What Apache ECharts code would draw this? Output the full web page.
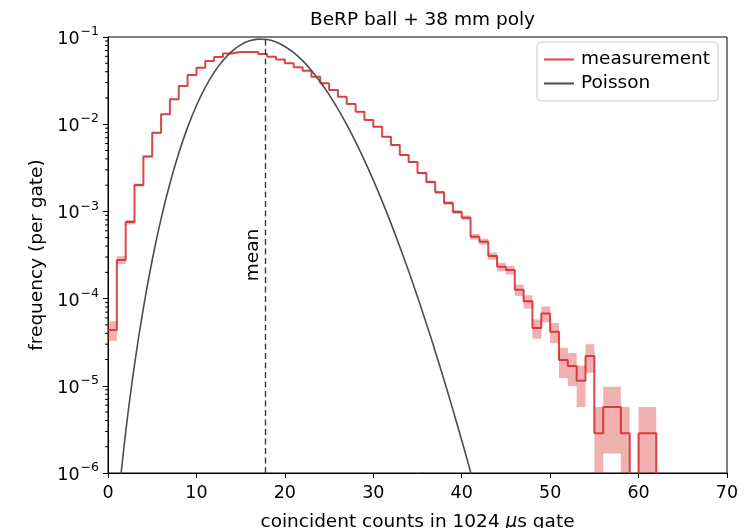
<!DOCTYPE html>
<html><head><meta charset="utf-8">
<script src="https://cdn.jsdelivr.net/npm/echarts@6/dist/echarts.min.js"></script>
<style>html,body{margin:0;padding:0;background:#fff}#c{width:756px;height:528px}</style>
</head><body><div id="c"></div>
<script>
// ---- data ----
const titleText = 'BeRP ball + 38 mm poly';
const binLow = [0,1,2,3,4,5,6,7,8,9,10,11,12,13,14,15,16,17,18,19,20,21,22,23,24,25,26,27,28,29,30,
  31,32,33,34,35,36,37,38,39,40,41,42,43,44,45,46,47,48,49,50,51,52,53,54,55,56,57,58,59,60,61];
const measured = [4.37e-5,2.77e-4,7.55e-4,2.01e-3,4.27e-3,8.0e-3,1.30e-2,1.93e-2,2.74e-2,3.66e-2,
  4.45e-2,5.31e-2,5.90e-2,6.47e-2,6.73e-2,6.73e-2,6.73e-2,6.38e-2,5.94e-2,5.52e-2,
  4.99e-2,4.50e-2,4.11e-2,3.51e-2,2.94e-2,2.47e-2,2.07e-2,1.71e-2,1.39e-2,1.12e-2,
  9.35e-3,7.19e-3,5.77e-3,4.43e-3,3.69e-3,2.75e-3,2.17e-3,1.66e-3,1.25e-3,9.84e-4,
  8.47e-4,5.13e-4,4.49e-4,3.08e-4,2.32e-4,2.13e-4,1.26e-4,9.33e-5,4.60e-5,6.75e-5,
  4.17e-5,1.98e-5,1.69e-5,1.14e-5,2.20e-5,2.85e-6,5.7e-6,5.7e-6,2.85e-6,0,
  2.85e-6,2.85e-6];
const binWidth = 1;
const gates = 351000;          // number of gates (1 count = 1/gates)
const poissonK = [1,2,3,4,5,6,7,8,9,10,11,12,13,14,15,16,17,18,19,20,21,
  22,23,24,25,26,27,28,29,30,31,32,33,34,35,36,37,38,39,40,41,42];
const poissonP = [3.31e-7,2.95e-6,1.75e-5,7.78e-5,2.77e-4,8.22e-4,2.09e-3,4.65e-3,9.20e-3,1.637e-2,
  2.649e-2,3.929e-2,5.38e-2,6.84e-2,8.12e-2,9.03e-2,9.45e-2,9.35e-2,8.76e-2,7.79e-2,
  6.61e-2,5.35e-2,4.14e-2,3.07e-2,2.185e-2,1.496e-2,9.86e-3,6.27e-3,3.85e-3,2.28e-3,
  1.311e-3,7.29e-4,3.93e-4,2.06e-4,1.047e-4,5.18e-5,2.49e-5,1.167e-5,5.33e-6,2.37e-6,
  1.03e-6,4.36e-7];
const meanCounts = 17.8;
const xTicks = [0,10,20,30,40,50,60,70];
const yTicks = [1e-6,1e-5,1e-4,1e-3,1e-2,1e-1];
const seriesNames = ['measurement','Poisson'];
const xLabel = 'coincident counts in 1024 {i|μ}s gate';
const yLabel = 'frequency (per gate)';

// ---- build ----
const FONT = 'DejaVu Sans';
const FLOOR = 1e-12; // zero counts drawn far below the axis (clipped)
const yMin = yTicks[0], yMax = yTicks[yTicks.length-1];
const stepData = binLow.map((x,i)=>[x, measured[i] > 0 ? measured[i] : FLOOR]);
stepData.push([binLow[binLow.length-1] + binWidth, FLOOR]);
const poissonData = poissonK.map((k,i)=>[k, poissonP[i]]);
const minorTicks = [];
for (let d = 0; d < yTicks.length - 1; d++) for (let m = 2; m <= 9; m++) minorTicks.push(yTicks[d]*m);

const chart = echarts.init(document.getElementById('c'));
const RED = 'rgba(214,39,40,0.85)';
const LFS = 18.5, TFS = 17.5;
chart.setOption({
  animation: false,
  textStyle: {fontFamily: FONT},
  title: {text: titleText, left: 417.5, textAlign: 'center', top: 6,
    textStyle: {fontFamily: FONT, fontSize: LFS, fontWeight: 'normal', color: '#000'}},
  legend: {
    data: seriesNames.map(n=>({name:n, icon:'rect'})),
    orient: 'vertical', left: 537, top: 42, itemWidth: 30, itemHeight: 2, itemGap: 5,
    padding: [8, 8, 8, 7], borderColor: '#cccccc', borderWidth: 1, borderRadius: 4,
    backgroundColor: 'rgba(255,255,255,0.8)',
    textStyle: {fontFamily: FONT, fontSize: LFS, color: '#000', padding: [0,0,0,2]}
  },
  grid: {left: 108, right: 29, top: 37, bottom: 55, show: true, borderColor: '#000', borderWidth: 1,
    containLabel: false, outerBoundsMode: 'none'},
  xAxis: {
    type: 'value', min: xTicks[0], max: xTicks[xTicks.length-1], interval: 10,
    name: xLabel, nameLocation: 'middle', nameGap: 40,
    nameTextStyle: {fontFamily: FONT, fontSize: LFS, color: '#000',
      rich: {i: {fontFamily: FONT, fontStyle: 'italic', fontSize: LFS, color: '#000'}}},
    axisLine: {show: true, lineStyle: {color: '#000', width: 1}},
    axisTick: {show: true, length: 5, lineStyle: {color: '#000'}},
    axisLabel: {fontFamily: FONT, fontSize: TFS, color: '#000', margin: 11},
    splitLine: {show: false}
  },
  yAxis: {
    type: 'log', logBase: 10, min: yMin, max: yMax,
    name: yLabel, nameLocation: 'middle', nameGap: 60, nameRotate: 90,
    nameTextStyle: {fontFamily: FONT, fontSize: LFS, color: '#000'},
    axisLine: {show: true, lineStyle: {color: '#000', width: 1}},
    axisTick: {show: true, length: 5, lineStyle: {color: '#000'}},
    axisLabel: {
      margin: 9, color: '#000',
      formatter: v => {
        const e = Math.round(Math.log10(v));
        return '{b|10}{s|' + (e < 0 ? '\u2212' : '') + Math.abs(e) + '}';
      },
      rich: {
        b: {fontFamily: FONT, fontSize: TFS, color: '#000', lineHeight: 23, verticalAlign: 'bottom'},
        s: {fontFamily: FONT, fontSize: 12.5, color: '#000', lineHeight: 23, verticalAlign: 'top', padding: [0,0,0,1]}
      }
    },
    splitLine: {show: false}
  },
  series: [
    {
      name: 'band', type: 'custom', silent: true, z: 1, clip: true,
      data: [0],
      renderItem: (params, api) => {
        const cs = params.coordSys;
        const clampY = y => Math.max(cs.y, Math.min(cs.y + cs.height, y));
        const safe = v => v > 0 ? v : FLOOR;
        const up = [], lo = [];
        measured.forEach((v, i) => {
          const err = Math.sqrt(v / gates);
          const u = safe(v + err), l = safe(v - err);
          const x0 = binLow[i], x1 = binLow[i] + binWidth;
          const pu0 = api.coord([x0, u]), pu1 = api.coord([x1, u]);
          const pl0 = api.coord([x0, l]), pl1 = api.coord([x1, l]);
          up.push([pu0[0], clampY(pu0[1])], [pu1[0], clampY(pu1[1])]);
          lo.push([pl0[0], clampY(pl0[1])], [pl1[0], clampY(pl1[1])]);
        });
        const pts = up.concat(lo.reverse());
        return {type: 'polygon', shape: {points: pts},
          style: {fill: 'rgba(214,39,40,0.36)', stroke: null}};
      }
    },
    {
      name: seriesNames[0], type: 'line', step: 'end', data: stepData, showSymbol: false, symbol: 'none',
      clip: true, z: 3, color: RED,
      lineStyle: {color: RED, width: 2}
    },
    {
      name: seriesNames[1], type: 'line', data: poissonData, showSymbol: false, symbol: 'none',
      smooth: 0.4, clip: true, z: 4, color: '#4d4d4d',
      lineStyle: {color: '#4d4d4d', width: 1.6},
      markLine: {
        silent: true, symbol: ['none','none'],
        lineStyle: {type: [6, 3.5], color: '#3a3a3a', width: 1.4},
        label: {show: true, formatter: 'mean', position: 'insideMiddleTop', distance: 3,
          fontFamily: FONT, fontSize: LFS, color: '#000'},
        data: [[{coord: [meanCounts, yMin]}, {coord: [meanCounts, yMax]}]]
      }
    },
    {
      name: 'minorTicks', type: 'custom', silent: true, clip: false, z: 5,
      data: minorTicks,
      renderItem: (params, api) => {
        const p = api.coord([xTicks[0], api.value(0)]);
        return {type: 'line', shape: {x1: p[0] - 3, y1: p[1], x2: p[0], y2: p[1]},
          style: {stroke: '#000', lineWidth: 1}};
      },
      encode: {x: null, y: 0}
    }
  ]
});
</script></body></html>
